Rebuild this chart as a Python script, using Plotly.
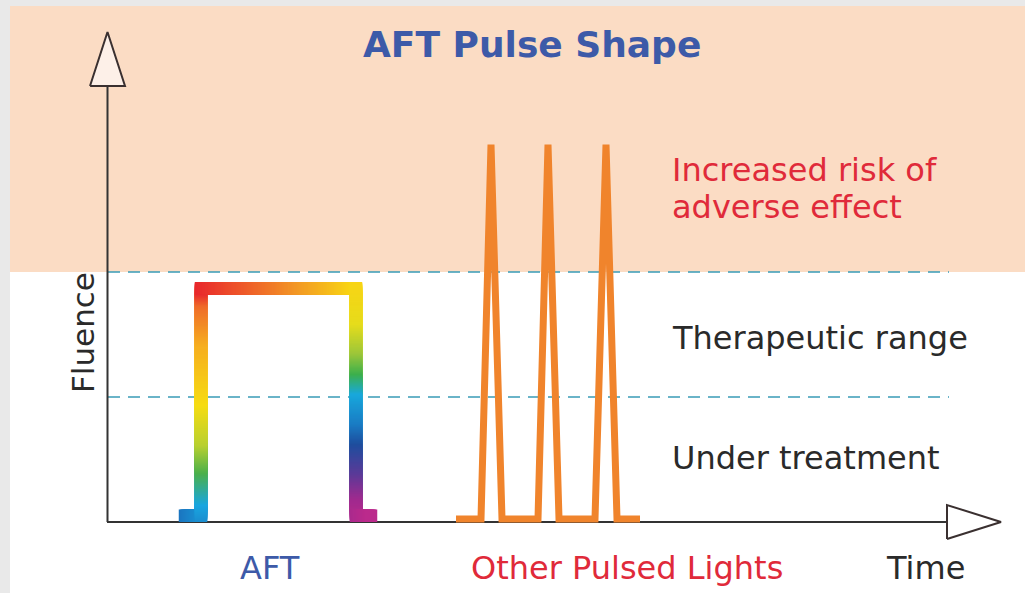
import numpy as np
import plotly.graph_objects as go

# ---------------- data (time / fluence units) ----------------
aft_time = [0.78, 0.94, 0.94, 2.49, 2.49, 2.64]
aft_fluence = [0.05, 0.05, 1.87, 1.87, 0.05, 0.05]

other_time = [3.49, 3.74, 3.84, 3.95, 4.31, 4.41, 4.52, 4.88, 4.99, 5.10, 5.33]
other_fluence = [0.025, 0.025, 3.02, 0.025, 0.025, 3.02, 0.025, 0.025, 3.02, 0.025, 0.025]

threshold_fluence = [1.0, 2.0]          # under-treatment / therapeutic / risk limits
zone_labels = ["Under treatment", "Therapeutic range"]
risk_label_lines = ["Increased risk of", "adverse effect"]
category_labels = ["AFT", "Other Pulsed Lights"]
title_text = "AFT Pulse Shape"
x_label, y_label = "Time", "Fluence"

# ---------------- layout constants ----------------
W, H = 1025, 593
PX_X, PX_Y = 100.0, 125.0                 # pixels per unit
X_RANGE = [-1.07, -1.07 + W / PX_X]
Y_RANGE = [-0.568, -0.568 + H / PX_Y]
AXIS_X_END = 8.40
AXIS_Y_END = 3.488
PEACH = "#fbdcc4"
DARK = "#2a2a2a"
BLUE = "#3d5aa8"
RED = "#e02a3a"
FONT = "DejaVu Sans"

fig = go.Figure()

# ---------------- AFT rainbow pulse (gradient along the path) ----------------
xs, ys = [], []
for i in range(len(aft_time) - 1):
    x0, x1 = aft_time[i], aft_time[i + 1]
    y0, y1 = aft_fluence[i], aft_fluence[i + 1]
    L = np.hypot((x1 - x0) * PX_X, (y1 - y0) * PX_Y)
    n = max(int(np.ceil(L)), 1)
    t = np.linspace(0, 1, n, endpoint=(i == len(aft_time) - 2))
    xs.extend(x0 + (x1 - x0) * t)
    ys.extend(y0 + (y1 - y0) * t)
xs, ys = np.array(xs), np.array(ys)
seg = np.hypot(np.diff(xs) * PX_X, np.diff(ys) * PX_Y)
s = np.concatenate([[0], np.cumsum(seg)])
s = s / s[-1]

rainbow = [
    [0.0, "#1b76c0"], [0.05, "#19a6e0"], [0.10, "#4cb04a"], [0.143, "#b8d030"],
    [0.206, "#f6dc12"], [0.299, "#f6ae20"], [0.36, "#ef6c2a"], [0.38, "#e8282c"],
    [0.456, "#ee5a2a"], [0.534, "#f29526"], [0.621, "#f8d414"], [0.687, "#e6dc1c"],
    [0.733, "#9cc63a"], [0.765, "#3cb04c"], [0.796, "#18a8dc"], [0.843, "#1a7cc4"],
    [0.874, "#1e4e9e"], [0.921, "#5c3a98"], [0.96, "#a02a8e"], [1.0, "#bb2a8c"],
]
fig.add_trace(go.Scatter(
    x=xs, y=ys, mode="markers",
    marker=dict(symbol="square", size=12.5, color=s, colorscale=rainbow,
                cmin=0, cmax=1, line=dict(width=0)),
    hoverinfo="skip", showlegend=False))

# ---------------- other pulsed lights ----------------
fig.add_trace(go.Scatter(
    x=other_time, y=other_fluence, mode="lines",
    line=dict(color="#f0842c", width=7), hoverinfo="skip", showlegend=False))

# ---------------- axis arrows ----------------
fig.add_trace(go.Scatter(
    x=[-0.17, 0.18, 0.005, -0.17], y=[AXIS_Y_END, AXIS_Y_END, 3.92, AXIS_Y_END],
    mode="lines", fill="toself", fillcolor="#fdf0e8",
    line=dict(color="#3a3030", width=2), hoverinfo="skip", showlegend=False))
fig.add_trace(go.Scatter(
    x=[AXIS_X_END, AXIS_X_END, 8.94, AXIS_X_END], y=[-0.136, 0.136, 0.0, -0.136],
    mode="lines", fill="toself", fillcolor="#ffffff",
    line=dict(color="#3a3030", width=2), hoverinfo="skip", showlegend=False))

# ---------------- shapes ----------------
shapes = [
    dict(type="rect", xref="paper", yref="paper", x0=10 / W, x1=1, y0=0, y1=1 - 6 / H,
         fillcolor="white", line=dict(width=0), layer="below"),
    dict(type="rect", xref="paper", yref="y", x0=10 / W, x1=1,
         y0=threshold_fluence[1], y1=Y_RANGE[1] - 6 / PX_Y,
         fillcolor=PEACH, line=dict(width=0), layer="below"),
]
for f in threshold_fluence:
    shapes.append(dict(type="line", xref="x", yref="y", x0=0.01, x1=AXIS_X_END + 0.02,
                       y0=f, y1=f, line=dict(color="#3a9cb6", width=1.6, dash="12px,8px"),
                       layer="below"))
shapes.append(dict(type="line", xref="x", yref="y", x0=0.005, x1=0.005, y0=0, y1=AXIS_Y_END,
                   line=dict(color="#333333", width=2), layer="below"))
shapes.append(dict(type="line", xref="x", yref="y", x0=0.0, x1=AXIS_X_END, y0=0, y1=0,
                   line=dict(color="#333333", width=2), layer="below"))

# ---------------- annotations ----------------
ann = []
def txt(x, y, text, color, size=32, xanchor="center", angle=0, bold=False):
    ann.append(dict(x=x, y=y, xref="x", yref="y", text=f"<b>{text}</b>" if bold else text,
                    showarrow=False, xanchor=xanchor, yanchor="middle", textangle=angle,
                    font=dict(family=FONT, size=size, color=color)))

txt(4.245, 3.824, title_text, BLUE, size=36, bold=True)
txt(5.63, 2.816, risk_label_lines[0], RED, xanchor="left")
txt(5.63, 2.52, risk_label_lines[1], RED, xanchor="left")
txt(5.63, 1.472, zone_labels[1], DARK, xanchor="left")
txt(5.63, 0.512, zone_labels[0], DARK, xanchor="left")
txt(-0.24, 1.512, y_label, DARK, size=31, angle=-90)
txt(1.63, -0.368, category_labels[0], BLUE)
txt(5.20, -0.368, category_labels[1], RED)
txt(8.18, -0.368, x_label, DARK)

fig.update_layout(
    width=W, height=H, margin=dict(l=0, r=0, t=0, b=0),
    paper_bgcolor="#e9e9e9", plot_bgcolor="rgba(0,0,0,0)",
    xaxis=dict(range=X_RANGE, visible=False, fixedrange=True),
    yaxis=dict(range=Y_RANGE, visible=False, fixedrange=True),
    shapes=shapes, annotations=ann, showlegend=False,
)

fig.write_html("out.html", config={"displayModeBar": False},
               post_script="document.body.style.margin='0';document.body.style.overflow='hidden';")
